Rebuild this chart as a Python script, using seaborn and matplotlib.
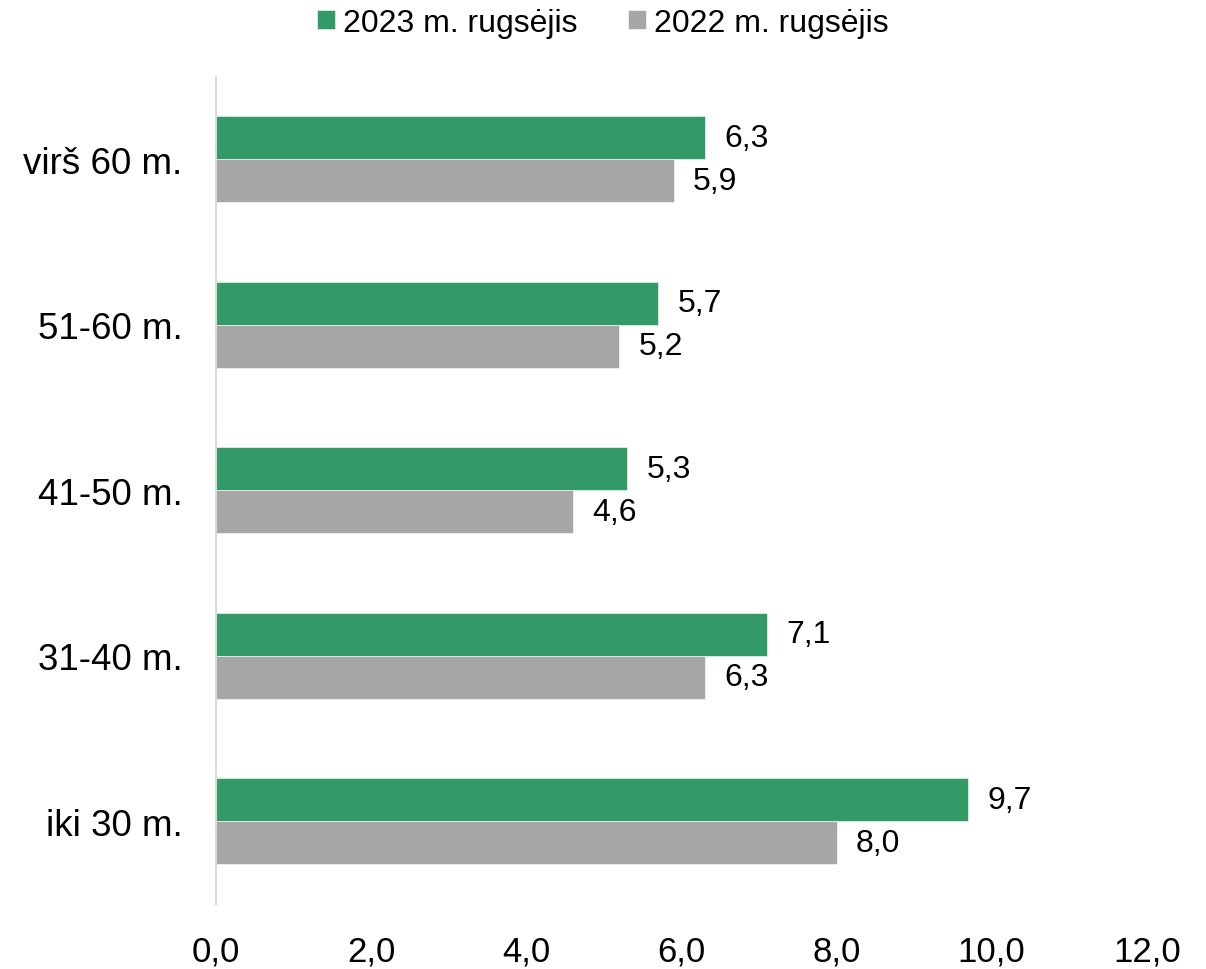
import matplotlib
matplotlib.use('Agg')
import matplotlib.pyplot as plt
import seaborn as sns
import pandas as pd

categories = ['virš 60 m.', '51-60 m.', '41-50 m.', '31-40 m.', 'iki 30 m.']
series = ['2023 m. rugsėjis', '2022 m. rugsėjis']
values_2023 = [6.3, 5.7, 5.3, 7.1, 9.7]
values_2022 = [5.9, 5.2, 4.6, 6.3, 8.0]
xticks = [0, 2, 4, 6, 8, 10, 12]
colors = ['#339966', '#a6a6a6']

df = pd.DataFrame({
    'grupe': categories * 2,
    'serija': [series[0]] * 5 + [series[1]] * 5,
    'reiksme': values_2023 + values_2022,
})

sns.set_style('white')
plt.rcParams['font.family'] = ['Liberation Sans', 'DejaVu Sans']
plt.rcParams['text.color'] = 'black'
plt.rcParams['xtick.color'] = 'black'
plt.rcParams['ytick.color'] = 'black'

fig, ax = plt.subplots(figsize=(12.06, 9.70), dpi=100)
fig.subplots_adjust(left=0.179, right=0.951, top=0.92, bottom=0.067)

sns.barplot(data=df, y='grupe', x='reiksme', hue='serija', order=categories,
            hue_order=series, palette=colors, orient='h', width=0.52,
            saturation=1, ax=ax, edgecolor='white', linewidth=0.4)

for cont in ax.containers:
    labels = [f'{v:.1f}'.replace('.', ',') for v in cont.datavalues]
    ax.bar_label(cont, labels=labels, padding=14, fontsize=23, color='black')

ax.set_xlim(0, 12)
ax.set_ylim(4.5, -0.5)
ax.set_xticks(xticks)
ax.set_xticklabels([f'{t:.1f}'.replace('.', ',') for t in xticks], fontsize=25)
ax.tick_params(axis='x', length=0, pad=22)
ax.tick_params(axis='y', length=0, pad=24, labelsize=26.5)
ax.set_xlabel('')
ax.set_ylabel('')

for s in ['top', 'right', 'bottom']:
    ax.spines[s].set_visible(False)
ax.spines['left'].set_color('#d9d9d9')
ax.spines['left'].set_linewidth(1.5)

ax.legend(loc='upper center', bbox_to_anchor=(0.5, 1.004),
          bbox_transform=fig.transFigure, ncol=2, borderaxespad=0,
          frameon=False, fontsize=23, handlelength=0.55, handleheight=0.55,
          handletextpad=0.25, columnspacing=1.6)

fig.savefig('out.png', dpi=100)
